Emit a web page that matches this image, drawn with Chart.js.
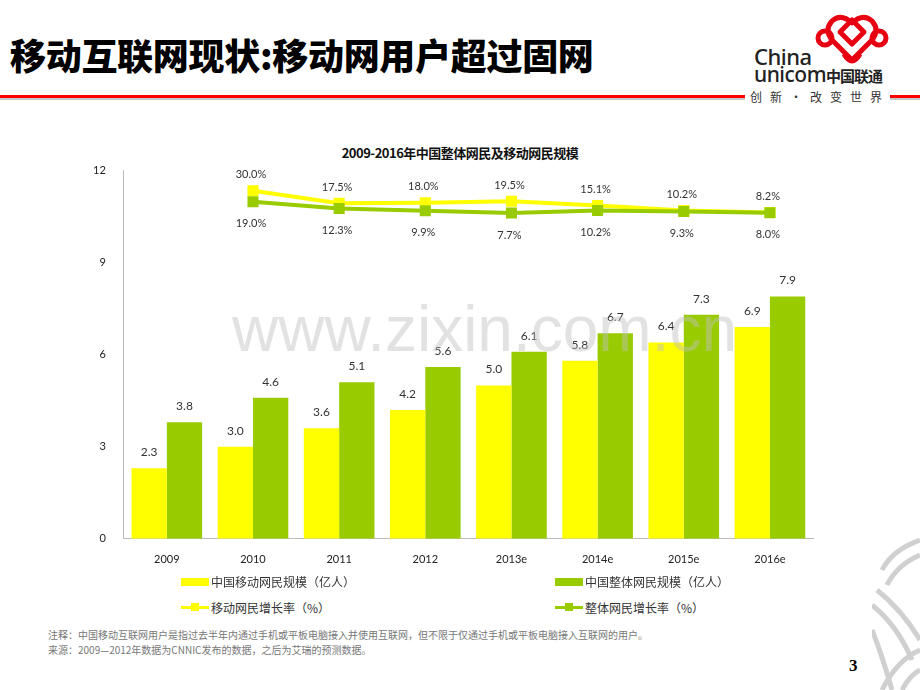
<!DOCTYPE html>
<html>
<head>
<meta charset="utf-8">
<script src="https://cdn.jsdelivr.net/npm/chart.js@4.4.1/dist/chart.umd.min.js"></script>
<style>
  body { margin:0; width:920px; height:690px; background:#fff; position:relative; overflow:hidden;
         font-family: Lato, "Noto Sans CJK SC", sans-serif; }
  .abs { position:absolute; }
  #title { left:10px; top:28px; font: 900 36px "Noto Sans CJK SC", sans-serif; color:#000; letter-spacing:-0.3px; white-space:nowrap; }
  #redline { left:0; top:95px; width:745px; height:3px; background:#ff0000; }
  #grayline { left:0; top:98px; width:745px; height:2px; background:#c8c8c8; }
  #redline2 { left:890px; top:95px; width:30px; height:3px; background:#ff0000; }
  #grayline2 { left:890px; top:98px; width:30px; height:2px; background:#c8c8c8; }
  #slogan { left:750px; top:88px; font: 12px "Noto Sans CJK SC", sans-serif; color:#333; letter-spacing:8px; white-space:nowrap; }
  #china { left:754px; top:45px; font: 500 22px "Noto Sans", sans-serif; color:#222; letter-spacing:-0.5px; line-height:22px; }
  #unicom { left:754px; top:64px; font: 500 21px "Noto Sans", sans-serif; color:#222; letter-spacing:-0.5px; line-height:21px; white-space:nowrap; }
  #unicom span { font: 700 15px "Noto Sans CJK SC", sans-serif; letter-spacing:-1px; }
  #chartTitle { left:0; width:920px; top:143px; text-align:center; font: 700 13px "Noto Sans CJK SC", sans-serif; color:#111; letter-spacing:-0.5px; }
  #box { left:69px; top:146px; width:756px; height:438px; }
  #watermark { left:232px; top:292px; font: 64px "Liberation Sans", sans-serif; color:rgba(190,190,190,0.45); white-space:nowrap; pointer-events:none; }
  .leg { font: 12px "Noto Sans CJK SC", sans-serif; color:#333; white-space:nowrap; display:flex; align-items:center; }
  .sw { width:28px; height:8px; margin-right:2px; }
  .ln { width:28px; height:3px; margin-right:2px; position:relative; }
  .ln i { position:absolute; left:10px; top:-3px; width:8px; height:8px; }
  #note { left:48px; top:627px; font: 10px "Noto Sans CJK SC", sans-serif; color:#777; line-height:15px; white-space:nowrap; }
  #page { left:849px; top:656px; font: 700 17px "Liberation Serif", serif; color:#000; }
</style>
</head>
<body>
<div id="title" class="abs">移动互联网现状:移动网用户超过固网</div>
<div id="redline" class="abs"></div><div id="grayline" class="abs"></div>
<div id="redline2" class="abs"></div><div id="grayline2" class="abs"></div>
<svg class="abs" style="left:812px;top:8px" width="80" height="62" viewBox="0 0 80 62">
  <g fill="none" stroke="#e60012" stroke-width="5" stroke-linejoin="round">
    <path d="M40 52 L20 32 Q12 22 20 13 Q29 5 40 15 Q51 5 60 13 Q68 22 60 32 Z"/>
    <path d="M28 24 L40 36 L52 24 L40 12 Z"/>
    <circle cx="13" cy="30" r="7"/>
    <circle cx="67" cy="30" r="7"/>
    <path d="M32 46 Q40 60 48 46"/>
  </g>
</svg>
<div id="china" class="abs">China</div>
<div id="unicom" class="abs">unicom<span>中国联通</span></div>
<div id="slogan" class="abs">创新·改变世界</div>

<div id="chartTitle" class="abs">2009-2016年中国整体网民及移动网民规模</div>
<div id="box" class="abs"><canvas id="myChart"></canvas></div>
<div id="watermark" class="abs">www.zixin.com.cn</div>
<div id="legend"></div>

<div id="note" class="abs">注释：中国移动互联网用户是指过去半年内通过手机或平板电脑接入并使用互联网，但不限于仅通过手机或平板电脑接入互联网的用户。<br>来源：2009—2012年数据为CNNIC发布的数据，之后为艾瑞的预测数据。</div>
<div id="page" class="abs">3</div>
<svg class="abs" style="left:872px;top:530px" width="48" height="160">
  <g fill="none" stroke="#d0d0d0" stroke-width="5">
    <path d="M48 10 Q20 20 10 40"/><path d="M48 25 Q25 35 15 55"/>
    <path d="M5 60 Q30 80 48 110"/><path d="M0 75 Q25 95 40 130"/>
    <path d="M10 160 Q25 130 48 120"/><path d="M30 160 Q38 145 48 140"/>
    <path d="M0 100 Q10 125 20 160"/>
  </g>
</svg>

<script>
const years = ['2009', '2010', '2011', '2012', '2013e', '2014e', '2015e', '2016e']
const mobileUsers = [2.3, 3.0, 3.6, 4.2, 5.0, 5.8, 6.4, 6.9]
const totalUsers = [3.8, 4.6, 5.1, 5.6, 6.1, 6.7, 7.3, 7.9]
const mobileGrowth = [null, 30.0, 17.5, 18.0, 19.5, 15.1, 10.2, 8.2]
const totalGrowth = [null, 19.0, 12.3, 9.9, 7.7, 10.2, 9.3, 8.0]
const yTicks = [0, 3, 6, 9, 12]

const YELLOW = '#ffff00'
const GREEN = '#99cc00'

// value labels above bars, above/below line points
const labelPlugin = {
    id: 'labels',
    afterDatasetsDraw(chart) {
        const c = chart.ctx
        c.save()
        c.fillStyle = '#333'
        c.textAlign = 'center'
        c.textBaseline = 'middle'
        chart.data.datasets.forEach((ds, i) => {
            const meta = chart.getDatasetMeta(i)
            meta.data.forEach((el, j) => {
                const v = ds.data[j]
                if (v === null) return
                if (ds.type === 'bar') {
                    c.font = '12px Lato, sans-serif'
                    c.fillText(v.toFixed(1), el.x, el.y - 16)
                } else {
                    c.font = '11px Lato, sans-serif'
                    const dy = i === 2 ? -16 : 22
                    c.fillText(v.toFixed(1) + '%', el.x - 2, el.y + dy)
                }
            })
        })
        c.restore()
    }
}

const data = {
    labels: years,
    datasets: [{
        type: 'bar',
        label: '中国移动网民规模（亿人）',
        data: mobileUsers,
        backgroundColor: YELLOW,
        order: 3
    },{
        type: 'bar',
        label: '中国整体网民规模（亿人）',
        data: totalUsers,
        backgroundColor: GREEN,
        order: 3
    },{
        type: 'line',
        label: '移动网民增长率（%）',
        data: mobileGrowth,
        yAxisID: 'y1',
        borderColor: YELLOW,
        backgroundColor: YELLOW,
        borderWidth: 4,
        pointStyle: 'rect',
        pointRadius: 5,
        tension: 0,
        order: 2
    },{
        type: 'line',
        label: '整体网民增长率（%）',
        data: totalGrowth,
        yAxisID: 'y1',
        borderColor: GREEN,
        backgroundColor: GREEN,
        borderWidth: 4,
        pointStyle: 'rect',
        pointRadius: 5,
        tension: 0,
        order: 1
    }]
}

const config = {
    type: 'bar',
    data: data,
    options: {
        responsive: true,
        maintainAspectRatio: false,
        animation: false,
        datasets: { bar: { categoryPercentage: 0.82, barPercentage: 1 } },
        layout: { padding: { left: 6, right: 12, top: 4, bottom: 4 } },
        plugins: {
            legend: { display: false },
            tooltip: { enabled: false }
        },
        scales: {
            x: {
                grid: { display: false, drawTicks: false },
                border: { display: true, color: '#bbb', width: 1 },
                ticks: { color: '#222', font: { size: 11, family: 'Lato' }, padding: 14 }
            },
            y: {
                min: 0, max: 12,
                afterBuildTicks: (axis) => { axis.ticks = yTicks.map(v => ({ value: v })) },
                grid: { display: false, drawTicks: false },
                border: { display: true, color: '#bbb', width: 1 },
                ticks: { color: '#222', font: { size: 11, family: 'Lato' }, padding: 18 }
            },
            y1: {
                display: false,
                min: -317, max: 50
            }
        }
    },
    plugins: [labelPlugin]
}

const ctx = document.getElementById('myChart')
const chart = new Chart(ctx, config)

// legend in two rows like the original slide
const legPos = [[181, 573], [555, 573], [181, 599], [555, 599]]
const legend = document.getElementById('legend')
data.datasets.forEach((ds, i) => {
    const d = document.createElement('div')
    d.className = 'abs leg'
    d.style.left = legPos[i][0] + 'px'
    d.style.top = legPos[i][1] + 'px'
    if (ds.type === 'bar')
        d.innerHTML = '<span class="sw" style="background:' + ds.backgroundColor + '"></span>' + ds.label
    else
        d.innerHTML = '<span class="ln" style="background:' + ds.borderColor + '"><i style="background:' + ds.borderColor + '"></i></span>' + ds.label
    legend.appendChild(d)
})
</script>
</body>
</html>
